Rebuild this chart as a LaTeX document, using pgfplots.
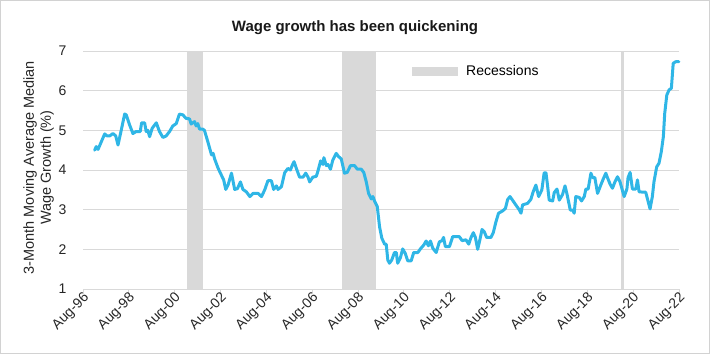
\documentclass[border=0pt]{standalone}
\usepackage{fontspec}
\setmainfont{Liberation Sans}
\usepackage{pgfplots}
\pgfplotsset{compat=1.18}
\definecolor{linecol}{RGB}{47,182,230}
\definecolor{recgray}{RGB}{217,217,217}
\definecolor{gridgray}{RGB}{217,217,217}
\definecolor{framegray}{RGB}{210,210,210}
\begin{document}
\begin{tikzpicture}[x=1bp,y=1bp]
\path[use as bounding box] (0,0) rectangle (710,354);
\draw[framegray, line width=1bp] (0.5,0.5) rectangle (709.5,353.5);
\begin{axis}[
  at={(83bp,65bp)}, anchor=south west,
  scale only axis, width=596bp, height=238bp,
  xmin=1996.583, xmax=2022.583,
  ymin=1, ymax=7,
  ytick={1,2,3,4,5,6,7},
  xtick={1996.583,1998.583,2000.583,2002.583,2004.583,2006.583,2008.583,2010.583,2012.583,2014.583,2016.583,2018.583,2020.583,2022.583},
  xticklabels={Aug-96,Aug-98,Aug-00,Aug-02,Aug-04,Aug-06,Aug-08,Aug-10,Aug-12,Aug-14,Aug-16,Aug-18,Aug-20,Aug-22},
  axis lines*=left,
  y axis line style={draw=none},
  x axis line style={draw=gridgray, line width=1bp, -},
  ymajorgrids, grid style={gridgray, line width=1bp},
  xtick style={draw=gridgray, line width=1bp},
  ytick style={draw=none},
  tick align=outside,
  major tick length=5bp,
  /pgf/number format/assume math mode=true,
  yticklabel style={font=\fontsize{14bp}{16bp}\selectfont, text=black!85, xshift=-8bp},
  xticklabel style={font=\fontsize{14bp}{16bp}\selectfont, text=black!85, rotate=45, anchor=east, xshift=5bp, yshift=-4bp},
  ylabel={3-Month Moving Average Median\\Wage Growth (\%)},
  every axis y label/.style={at={(axis description cs:-0.0745,0.51)}, rotate=90, anchor=center, align=center, font=\fontsize{14.5bp}{17bp}\selectfont, text=black!85},
  legend style={at={(axis description cs:0.5470,0.914)}, anchor=west, draw=none, fill=none, font=\fontsize{14bp}{16bp}\selectfont, nodes={inner sep=0pt}, /tikz/every odd column/.append style={column sep=8bp}},
  legend cell align=left,
  clip=false,
]
\addplot[fill=recgray, draw=none, area legend, legend image code/.code={\fill[recgray] (0bp,-4.5bp) rectangle (46bp,4.5bp);}] coordinates {(2001.13,1) (2001.13,7) (2001.80,7) (2001.80,1)} -- cycle;
\addlegendentry{Recessions}
\addplot[fill=recgray, draw=none, forget plot] coordinates {(2007.88,1) (2007.88,7) (2009.38,7) (2009.38,1)} -- cycle;
\addplot[fill=recgray, draw=none, forget plot] coordinates {(2020.04,1) (2020.04,7) (2020.19,7) (2020.19,1)} -- cycle;
\addplot[color=linecol, line width=3bp, line join=round, line cap=round, forget plot] coordinates {
(1997.09,4.50) (1997.16,4.59) (1997.24,4.52) (1997.38,4.71) (1997.53,4.91) (1997.63,4.86) (1997.75,4.86) (1997.89,4.92) (1998.01,4.86) (1998.11,4.63)
(1998.25,5.00) (1998.40,5.41) (1998.47,5.39) (1998.62,5.13) (1998.76,4.92) (1998.90,4.97) (1999.08,4.97) (1999.14,5.19) (1999.27,5.19) (1999.34,4.97)
(1999.41,5.00) (1999.49,4.84) (1999.60,5.05) (1999.78,5.19) (1999.92,4.97) (2000.07,4.82) (2000.21,4.86) (2000.36,4.97) (2000.50,5.11) (2000.65,5.17)
(2000.79,5.41) (2000.94,5.39) (2001.08,5.30) (2001.23,5.29) (2001.30,5.16) (2001.45,5.22) (2001.52,5.11) (2001.59,5.17) (2001.67,5.03) (2001.81,5.03)
(2001.88,5.00) (2002.03,4.71) (2002.19,4.38) (2002.26,4.42) (2002.33,4.27) (2002.48,4.04) (2002.62,3.87) (2002.72,3.75) (2002.81,3.51) (2002.91,3.62)
(2003.06,3.92) (2003.20,3.51) (2003.32,3.53) (2003.45,3.70) (2003.56,3.51) (2003.71,3.45) (2003.86,3.33) (2004.00,3.41) (2004.22,3.41) (2004.37,3.33)
(2004.51,3.50) (2004.65,3.73) (2004.80,3.73) (2004.90,3.51) (2005.02,3.60) (2005.09,3.51) (2005.24,3.58) (2005.38,3.93) (2005.52,4.04) (2005.63,4.00)
(2005.72,4.13) (2005.79,4.21) (2005.89,4.04) (2006.03,3.82) (2006.18,3.82) (2006.30,3.92) (2006.40,3.82) (2006.47,3.70) (2006.61,3.82) (2006.76,3.84)
(2006.83,3.97) (2006.95,4.23) (2007.05,4.14) (2007.09,4.31) (2007.20,4.11) (2007.27,4.14) (2007.38,4.02) (2007.48,4.25) (2007.63,4.42) (2007.73,4.34)
(2007.85,4.28) (2007.99,3.92) (2008.11,3.94) (2008.25,4.11) (2008.43,4.11) (2008.55,4.02) (2008.72,4.02) (2008.83,3.94) (2008.94,3.70) (2009.04,3.41)
(2009.16,3.27) (2009.23,3.33) (2009.30,3.22) (2009.42,3.08) (2009.52,2.57) (2009.62,2.28) (2009.74,2.13) (2009.81,2.13) (2009.88,1.73) (2009.95,1.65)
(2010.05,1.73) (2010.17,1.92) (2010.25,1.92) (2010.31,1.65) (2010.43,1.79) (2010.53,2.01) (2010.64,1.90) (2010.75,1.71) (2010.90,1.71) (2011.01,1.92)
(2011.19,1.92) (2011.30,2.01) (2011.45,2.11) (2011.55,2.21) (2011.65,2.09) (2011.74,2.21) (2011.84,2.03) (2011.99,1.92) (2012.13,2.19) (2012.25,2.22)
(2012.31,2.30) (2012.39,2.07) (2012.57,2.07) (2012.71,2.32) (2013.00,2.32) (2013.12,2.22) (2013.29,2.24) (2013.41,2.13) (2013.51,2.30) (2013.61,2.42)
(2013.70,2.30) (2013.80,2.00) (2013.90,2.25) (2013.99,2.50) (2014.09,2.44) (2014.19,2.30) (2014.38,2.30) (2014.48,2.42) (2014.60,2.70) (2014.71,2.91)
(2014.89,2.97) (2015.01,3.03) (2015.11,3.26) (2015.21,3.33) (2015.32,3.24) (2015.50,3.09) (2015.61,3.00) (2015.69,2.91) (2015.76,3.12) (2015.98,3.16)
(2016.12,3.26) (2016.22,3.45) (2016.34,3.62) (2016.46,3.33) (2016.60,3.50) (2016.70,3.93) (2016.78,3.93) (2016.85,3.60) (2016.92,3.24) (2017.07,3.22)
(2017.14,3.43) (2017.26,3.52) (2017.36,3.24) (2017.50,3.38) (2017.61,3.60) (2017.69,3.41) (2017.84,2.99) (2017.94,2.99) (2018.01,2.91) (2018.08,3.33)
(2018.23,3.31) (2018.33,3.22) (2018.45,3.33) (2018.52,3.52) (2018.62,3.52) (2018.74,3.92) (2018.81,3.81) (2018.91,3.81) (2019.03,3.41) (2019.17,3.62)
(2019.29,3.79) (2019.39,3.92) (2019.46,3.81) (2019.58,3.64) (2019.68,3.54) (2019.78,3.69) (2019.90,3.83) (2020.01,3.70) (2020.19,3.33) (2020.31,3.52)
(2020.36,3.81) (2020.45,3.94) (2020.55,3.52) (2020.70,3.52) (2020.77,3.75) (2020.84,3.45) (2021.06,3.44) (2021.13,3.44) (2021.23,3.22) (2021.32,3.02)
(2021.42,3.33) (2021.49,3.70) (2021.61,4.08) (2021.71,4.17) (2021.81,4.46) (2021.90,4.84) (2021.96,5.43) (2022.05,5.89) (2022.15,6.02) (2022.25,6.06)
(2022.33,6.69) (2022.44,6.73) (2022.58,6.73)
};
\end{axis}
\node[font=\bfseries\fontsize{15bp}{18bp}\selectfont, text=black!90] at (355,326) {Wage growth has been quickening};
\end{tikzpicture}
\end{document}
